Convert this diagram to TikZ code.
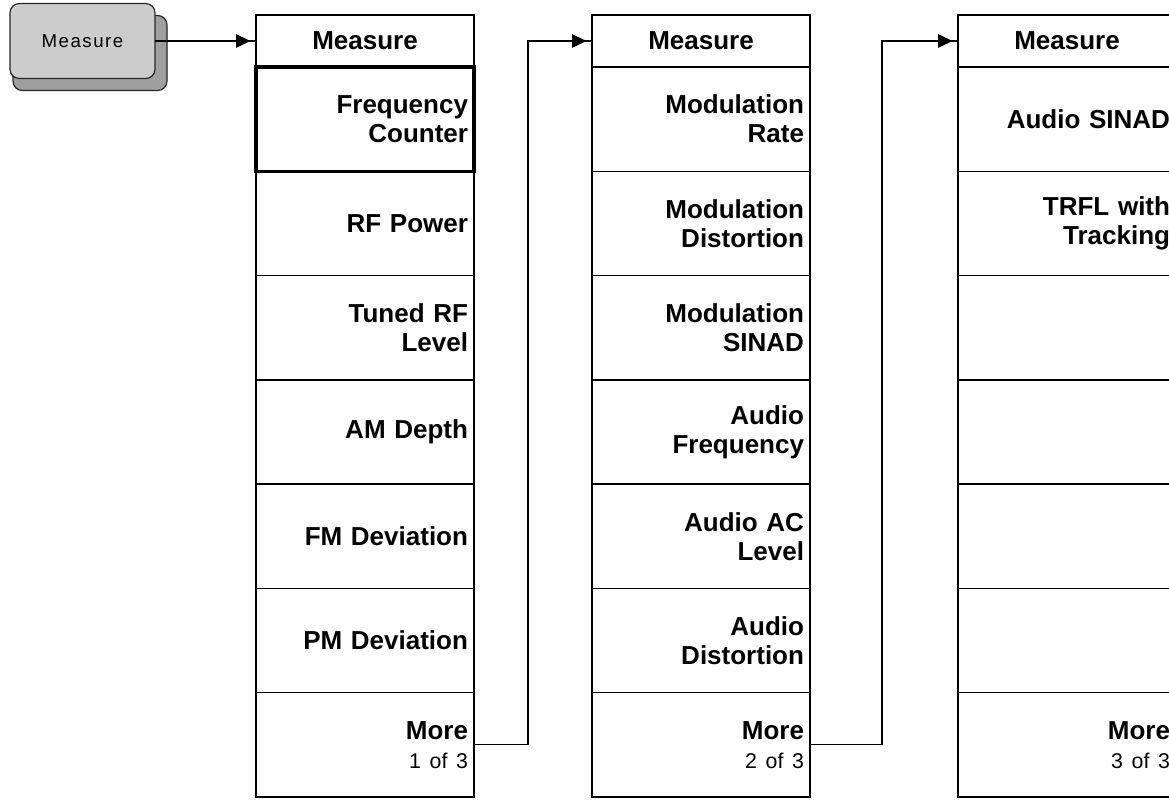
\documentclass[tikz,border=0pt]{standalone}
\usepackage{fontspec}
\setmainfont{Liberation Sans}
\newfontfamily\keyfont[LetterSpace=8]{Liberation Sans}
\usetikzlibrary{arrows.meta, positioning, calc, backgrounds, decorations.markings}
\newcommand{\pageof}[1]{{\fontsize{16}{18}\selectfont\mdseries #1}}

\begin{document}
\begin{tikzpicture}[
          x=0.75pt, y=-0.75pt,
          menu/.style={rectangle, draw=black, line width=1.1pt, outer sep=0pt, minimum width=163.5pt, inner xsep=4.5pt, inner ysep=0pt, text width=154.5pt, font=\fontsize{19.5}{21.75}\selectfont\bfseries},
          menuhead/.style={menu, minimum height=39pt, align=center},
          menukey/.style={menu, minimum height=78.2pt, align=right},
          selkey/.style={menukey, line width=2.4pt},
          keybtn/.style={rectangle, draw=black!85, line width=0.9pt, rounded corners=7pt, fill=gray!40, minimum width=108.75pt, minimum height=56.25pt, outer sep=0pt, font=\keyfont\fontsize{14}{16}\selectfont},
          keyshadow/.style={draw=black!85, line width=0.9pt, rounded corners=7pt, fill=gray!75},
          link/.style={line width=1.1pt, postaction={decorate}, decoration={markings, mark=at position -4pt with {\arrow{Triangle[length=11pt,width=10pt]}}}}
        ]
          \useasboundingbox (0,0) rectangle (1169,799);
          \clip (0,0) rectangle (1169,799);

          % Front panel key
          \node[keybtn] (btn) at (82.5,41) {Measure};
          \begin{scope}[on background layer]
            \draw[keyshadow] ($(btn.north west)+(3,12)$) rectangle ($(btn.south east)+(12,12)$);
          \end{scope}

          % Menu 1 of 3
          \node[menuhead] (head1) at (365,41) {Measure};
          \node[selkey, below=0pt of head1] (freq) {Frequency\\Counter};
          \node[menukey, below=0pt of freq] (rfpow) {RF Power};
          \node[menukey, below=0pt of rfpow] (tuned) {Tuned RF\\Level};
          \node[menukey, below=0pt of tuned] (amdep) {AM Depth};
          \node[menukey, below=0pt of amdep] (fmdev) {FM Deviation};
          \node[menukey, below=0pt of fmdev] (pmdev) {PM Deviation};
          \node[menukey, below=0pt of pmdev] (more1) {More\\\pageof{1 of 3}};

          % Menu 2 of 3
          \node[menuhead] (head2) at (701,41) {Measure};
          \node[menukey, below=0pt of head2] (modrate) {Modulation\\Rate};
          \node[menukey, below=0pt of modrate] (moddist) {Modulation\\Distortion};
          \node[menukey, below=0pt of moddist] (modsinad) {Modulation\\SINAD};
          \node[menukey, below=0pt of modsinad] (audfreq) {Audio\\Frequency};
          \node[menukey, below=0pt of audfreq] (audac) {Audio AC\\Level};
          \node[menukey, below=0pt of audac] (auddist) {Audio\\Distortion};
          \node[menukey, below=0pt of auddist] (more2) {More\\\pageof{2 of 3}};

          % Menu 3 of 3
          \node[menuhead] (head3) at (1067,41) {Measure};
          \node[menukey, below=0pt of head3] (audsinad) {Audio SINAD};
          \node[menukey, below=0pt of audsinad] (trfl) {TRFL with\\Tracking};
          \node[menukey, below=0pt of trfl] (blanka) {};
          \node[menukey, below=0pt of blanka] (blankb) {};
          \node[menukey, below=0pt of blankb] (blankc) {};
          \node[menukey, below=0pt of blankc] (blankd) {};
          \node[menukey, below=0pt of blankd] (more3) {More\\\pageof{3 of 3}};

          % Connections
          \draw[link] (btn.east) -- (head1.west);
          \draw[link] (more1.east) -- ++(54,0) |- (head2.west);
          \draw[link] (more2.east) -- ++(72,0) |- (head3.west);
        \end{tikzpicture}
\end{document}
